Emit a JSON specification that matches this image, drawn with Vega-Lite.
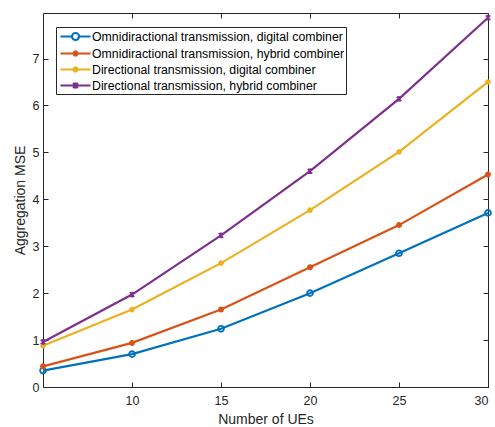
{
  "$schema": "https://vega.github.io/schema/vega-lite/v6.json",
  "autosize": "none",
  "width": 445,
  "height": 374,
  "padding": {"left": 43, "top": 13, "right": 7, "bottom": 40},
  "background": "white",
  "config": {
    "view": {"stroke": "#262626", "strokeWidth": 1},
    "font": "Liberation Sans",
    "axis": {"grid": false, "domain": false, "tickColor": "#262626", "tickSize": -5, "labelColor": "#262626", "titleColor": "#262626", "labelFontSize": 12.5, "titleFontSize": 14, "titleFontWeight": "normal", "labelFont": "Liberation Sans", "titleFont": "Liberation Sans"}
  },
  "data": {"values": [
    {"n": 5, "mse": 0.35, "s": "Omnidiractional transmission, digital combiner"},
    {"n": 10, "mse": 0.70, "s": "Omnidiractional transmission, digital combiner"},
    {"n": 15, "mse": 1.24, "s": "Omnidiractional transmission, digital combiner"},
    {"n": 20, "mse": 2.00, "s": "Omnidiractional transmission, digital combiner"},
    {"n": 25, "mse": 2.85, "s": "Omnidiractional transmission, digital combiner"},
    {"n": 30, "mse": 3.71, "s": "Omnidiractional transmission, digital combiner"},
    {"n": 5, "mse": 0.44, "s": "Omnidiractional transmission, hybrid combiner"},
    {"n": 10, "mse": 0.94, "s": "Omnidiractional transmission, hybrid combiner"},
    {"n": 15, "mse": 1.65, "s": "Omnidiractional transmission, hybrid combiner"},
    {"n": 20, "mse": 2.55, "s": "Omnidiractional transmission, hybrid combiner"},
    {"n": 25, "mse": 3.45, "s": "Omnidiractional transmission, hybrid combiner"},
    {"n": 30, "mse": 4.53, "s": "Omnidiractional transmission, hybrid combiner"},
    {"n": 5, "mse": 0.88, "s": "Directional transmission, digital combiner"},
    {"n": 10, "mse": 1.65, "s": "Directional transmission, digital combiner"},
    {"n": 15, "mse": 2.64, "s": "Directional transmission, digital combiner"},
    {"n": 20, "mse": 3.77, "s": "Directional transmission, digital combiner"},
    {"n": 25, "mse": 5.01, "s": "Directional transmission, digital combiner"},
    {"n": 30, "mse": 6.50, "s": "Directional transmission, digital combiner"},
    {"n": 5, "mse": 0.96, "s": "Directional transmission, hybrid combiner"},
    {"n": 10, "mse": 1.97, "s": "Directional transmission, hybrid combiner"},
    {"n": 15, "mse": 3.23, "s": "Directional transmission, hybrid combiner"},
    {"n": 20, "mse": 4.60, "s": "Directional transmission, hybrid combiner"},
    {"n": 25, "mse": 6.14, "s": "Directional transmission, hybrid combiner"},
    {"n": 30, "mse": 7.87, "s": "Directional transmission, hybrid combiner"}
  ]},
  "layer": [
    {
      "mark": {"type": "line", "strokeWidth": 2.2, "clip": false},
      "encoding": {
        "x": {"field": "n", "type": "quantitative", "scale": {"domain": [5, 30], "nice": false, "zero": false}, "axis": {"title": "Number of UEs", "values": [10, 15, 20, 25, 30], "orient": "bottom", "labelPadding": 12, "titlePadding": 6}},
        "y": {"field": "mse", "type": "quantitative", "scale": {"domain": [0, 7.97], "nice": false}, "axis": {"title": "Aggregation MSE", "values": [0, 1, 2, 3, 4, 5, 6, 7], "orient": "left", "labelPadding": 9, "titlePadding": 5}},
        "color": {"field": "s", "type": "nominal", "sort": null,
          "scale": {"domain": ["Omnidiractional transmission, digital combiner", "Omnidiractional transmission, hybrid combiner", "Directional transmission, digital combiner", "Directional transmission, hybrid combiner"], "range": ["#0072BD", "#D95319", "#EDB120", "#7E2F8E"]},
          "legend": {"title": null, "orient": "none", "legendX": 13, "legendY": 14, "fillColor": "white", "strokeColor": "#262626", "padding": 1, "symbolOffset": 10, "symbolType": "M-2.15,0H2.15", "symbolSize": 196, "symbolStrokeWidth": 2.2, "symbolFillColor": "transparent", "labelFontSize": 12.3, "labelColor": "#000000", "rowPadding": -3, "labelOffset": 8, "labelLimit": 300,
            "encode": {"symbols": {"update": {"shape": {"signal": "datum.value == 'Omnidiractional transmission, digital combiner' ? 'M-2.15,0H-0.5M0.5,0H2.15M0.5,0A0.5,0.5 0 1,1 -0.5,0A0.5,0.5 0 1,1 0.5,0' : datum.value == 'Directional transmission, hybrid combiner' ? 'M-2.15,0H2.15M-0.35,-0.35L0.35,0.35M-0.35,0.35L0.35,-0.35M0,-0.42V0.42' : 'M-2.15,0H2.15M0,-0.43V0.43M-0.3,-0.3L0.3,0.3M-0.3,0.3L0.3,-0.3'"}}}}}}
      }
    },
    {
      "transform": [{"filter": "datum.s == 'Omnidiractional transmission, digital combiner'"}],
      "mark": {"type": "point", "shape": "circle", "filled": false, "strokeWidth": 1.8, "size": 34, "opacity": 1, "clip": false, "color": "#0072BD"},
      "encoding": {
        "x": {"field": "n", "type": "quantitative", "axis": null},
        "y": {"field": "mse", "type": "quantitative", "axis": null}
      }
    },
    {
      "transform": [{"filter": "datum.s == 'Omnidiractional transmission, hybrid combiner'"}],
      "mark": {"type": "point", "shape": "M-1,0H1M0,-1V1M-0.7,-0.7L0.7,0.7M-0.7,0.7L0.7,-0.7", "filled": false, "strokeWidth": 1.8, "size": 36, "opacity": 1, "clip": false, "color": "#D95319"},
      "encoding": {
        "x": {"field": "n", "type": "quantitative", "axis": null},
        "y": {"field": "mse", "type": "quantitative", "axis": null}
      }
    },
    {
      "transform": [{"filter": "datum.s == 'Directional transmission, digital combiner'"}],
      "mark": {"type": "point", "shape": "M-1,0H1M0,-1V1M-0.7,-0.7L0.7,0.7M-0.7,0.7L0.7,-0.7", "filled": false, "strokeWidth": 1.6, "size": 32, "opacity": 1, "clip": false, "color": "#EDB120"},
      "encoding": {
        "x": {"field": "n", "type": "quantitative", "axis": null},
        "y": {"field": "mse", "type": "quantitative", "axis": null}
      }
    },
    {
      "transform": [{"filter": "datum.s == 'Directional transmission, hybrid combiner'"}],
      "mark": {"type": "point", "shape": "M-0.8,-0.8L0.8,0.8M-0.8,0.8L0.8,-0.8M0,-1V1", "filled": false, "strokeWidth": 1.6, "size": 32, "opacity": 1, "clip": false, "color": "#7E2F8E"},
      "encoding": {
        "x": {"field": "n", "type": "quantitative", "axis": null},
        "y": {"field": "mse", "type": "quantitative", "axis": null}
      }
    },
    {
      "mark": {"type": "rule", "opacity": 0},
      "encoding": {
        "x": {"field": "n", "type": "quantitative", "axis": {"orient": "top", "title": null, "labels": false, "values": [10, 15, 20, 25, 30]}},
        "y": {"field": "mse", "type": "quantitative", "axis": {"orient": "right", "title": null, "labels": false, "values": [0, 1, 2, 3, 4, 5, 6, 7]}}
      }
    }
  ],
  "resolve": {"axis": {"x": "independent", "y": "independent"}}
}
